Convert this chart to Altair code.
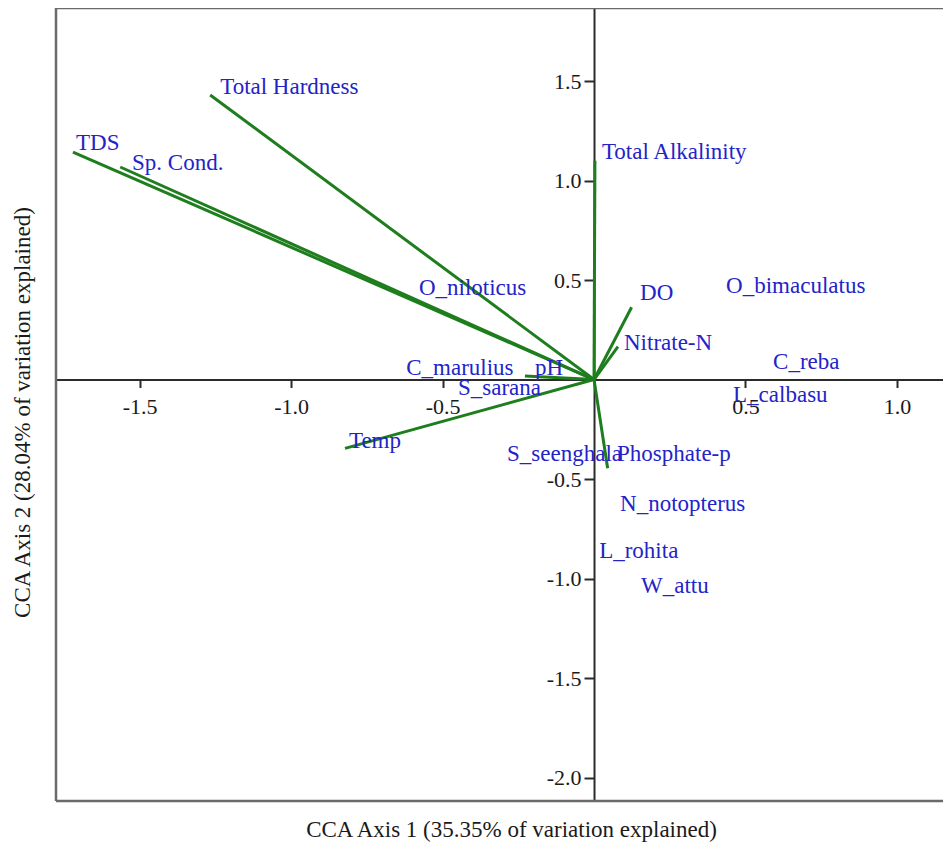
import altair as alt
import pandas as pd

# ---- data ----
env_names = ["Total Hardness", "TDS", "Sp. Cond.", "Total Alkalinity", "DO",
             "Nitrate-N", "pH", "Temp", "Phosphate-p"]
env_x = [-1.267, -1.720, -1.564, 0.003, 0.124, 0.079, -0.228, -0.822, 0.045]
env_y = [1.430, 1.143, 1.068, 1.100, 0.363, 0.165, 0.018, -0.346, -0.446]

label_names = ["Total Hardness", "TDS", "Sp. Cond.", "Total Alkalinity", "O_niloticus",
               "DO", "O_bimaculatus", "Nitrate-N", "C_reba", "C_marulius", "pH",
               "S_sarana", "L_calbasu", "Temp", "S_seenghala", "Phosphate-p",
               "N_notopterus", "L_rohita", "W_attu"]
label_x = [-1.234, -1.710, -1.525, 0.026, -0.578, 0.152, 0.436, 0.099, 0.591, -0.620,
           -0.195, -0.449, 0.459, -0.809, -0.287, 0.076, 0.086, 0.017, 0.155]
label_y = [1.470, 1.188, 1.088, 1.143, 0.460, 0.435, 0.470, 0.183, 0.088, 0.058,
           0.058, -0.043, -0.078, -0.309, -0.374, -0.374, -0.626, -0.862, -1.038]

x_ticks = [-1.5, -1.0, -0.5, 0.5, 1.0]
y_ticks = [1.5, 1.0, 0.5, -0.5, -1.0, -1.5, -2.0]

x_title = "CCA Axis 1 (35.35% of variation explained)"
y_title = "CCA Axis 2 (28.04% of variation explained)"

# ---- layout ----
W, H = 887, 793
XMIN, XMAX = -1.776, 1.152
YMIN, YMAX = -2.118, 1.867
FONT = "Liberation Serif"

x0pix = (0 - XMIN) / (XMAX - XMIN) * W
y0pix = (YMAX - 0) / (YMAX - YMIN) * H

env_df = pd.DataFrame({"name": env_names, "x": env_x, "y": env_y,
                       "ox": [0.0] * len(env_names), "oy": [0.0] * len(env_names)})
lab_df = pd.DataFrame({"name": label_names, "x": label_x, "y": label_y})

xs = alt.Scale(domain=[XMIN, XMAX], nice=False, zero=False)
ys = alt.Scale(domain=[YMIN, YMAX], nice=False, zero=False)

axis_common = dict(
    labelExpr="replace(format(datum.value, '.1f'), '\u2212', '-')",
    domainColor="#2b2b2b", domainWidth=2, tickColor="#2b2b2b",
    tickWidth=2, labelFont=FONT, labelFontSize=22, labelColor="#1a1a1a",
    titleFont=FONT, titleFontSize=23, titleFontWeight="normal", titleColor="#1a1a1a",
    grid=False, labelOverlap=False, titleAlign="center", titleBaseline="middle",
)

x_axis = alt.Axis(values=x_ticks, orient="bottom", offset=-(H - y0pix), tickSize=8,
                  labelPadding=9, title=x_title, titleX=455, titleY=450, **axis_common)
y_axis = alt.Axis(values=y_ticks, orient="left", offset=-x0pix, tickSize=10, labelPadding=3,
                  title=y_title, titleX=22 - 56 - x0pix, titleY=404, titleAngle=270,
                  **axis_common)

vectors = alt.Chart(env_df).mark_rule(color="#1e7e1e", strokeWidth=3).encode(
    x=alt.X("ox:Q", scale=xs, axis=x_axis),
    y=alt.Y("oy:Q", scale=ys, axis=y_axis),
    x2="x:Q",
    y2="y:Q",
)

labels = alt.Chart(lab_df).mark_text(
    align="left", baseline="middle", font=FONT, fontSize=23, color="#2323c8"
).encode(
    x=alt.X("x:Q", scale=xs, axis=x_axis),
    y=alt.Y("y:Q", scale=ys, axis=y_axis),
    text="name:N",
)

frame_df = pd.DataFrame({"k": [0]})
frame_col = "#6a6a6a"
top = alt.Chart(frame_df).mark_rule(color=frame_col, strokeWidth=2.5).encode(
    x=alt.value(0), x2=alt.value(W + 10), y=alt.value(0))
bottom = alt.Chart(frame_df).mark_rule(color=frame_col, strokeWidth=2.5).encode(
    x=alt.value(0), x2=alt.value(W + 10), y=alt.value(H))
left = alt.Chart(frame_df).mark_rule(color=frame_col, strokeWidth=2.5).encode(
    x=alt.value(0), y=alt.value(0), y2=alt.value(H))

chart = alt.layer(vectors, labels, top, bottom, left).properties(
    width=W, height=H,
    autosize=alt.AutoSizeParams(type="none"),
    padding={"left": 48, "top": 0, "right": 0, "bottom": 42},
).configure_view(stroke=None).configure(background="white")

chart.save("out.html", embed_options={"renderer": "svg", "actions": False})
